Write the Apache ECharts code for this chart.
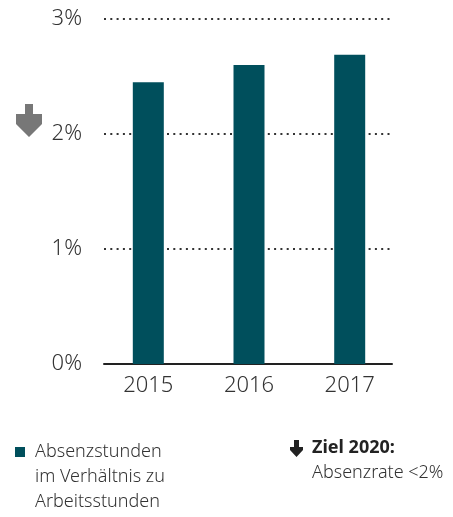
<!DOCTYPE html>
<html>
<head>
<meta charset="utf-8">
<script src="https://cdn.jsdelivr.net/npm/echarts@6/dist/echarts.min.js"></script>
<style>
  html, body { margin: 0; padding: 0; background: #fff; }
  #main { width: 453px; height: 517px; }
</style>
</head>
<body>
<div id="main"></div>
<script>
// Daten
var years = [2015, 2016, 2017];
var absenzrate = [2.45, 2.6, 2.69];
var legendText = ['Absenzstunden', 'im Verhältnis zu', 'Arbeitsstunden'];
var zielTitel = 'Ziel 2020:';
var zielText = 'Absenzrate <2%';

var font = '"Noto Sans", sans-serif';
var barColor = '#004f5c';

var chart = echarts.init(document.getElementById('main'));

chart.setOption({
    animation: false,
    textStyle: { fontFamily: font },
    grid: { left: 104, right: 61, top: 19, bottom: 153 },
    xAxis: {
        type: 'value',
        min: 2014.56,
        max: 2017.42,
        splitLine: { show: false },
        axisLine: { show: true, onZero: false, lineStyle: { color: '#222', width: 2 } },
        axisTick: { show: false },
        axisLabel: {
            customValues: years,
            color: '#333',
            fontSize: 22,
            fontWeight: 300,
            margin: 11,
            fontFamily: font,
            formatter: function (v) { return String(v); }
        }
    },
    yAxis: {
        type: 'value',
        min: 0,
        max: 3,
        interval: 1,
        axisLine: { show: false },
        axisTick: { show: false },
        axisLabel: {
            color: '#333',
            fontSize: 22,
            fontWeight: 300,
            margin: 22,
            fontFamily: font,
            formatter: '{value}%'
        },
        splitLine: {
            show: true,
            lineStyle: { color: '#333', width: 2, type: [2, 4.3] }
        }
    },
    series: [{
        type: 'bar',
        barWidth: 31,
        itemStyle: { color: barColor },
        data: years.map(function (y, i) { return [y, absenzrate[i]]; }),
        z: 3
    }],
    graphic: [
        // grauer Pfeil neben der Achse
        {
            type: 'polygon',
            shape: { points: [[25, 104], [33, 104], [33, 114], [42, 114], [42, 124], [29, 137], [16, 124], [16, 114], [25, 114]] },
            style: { fill: '#777' }
        },
        // Legende
        {
            type: 'rect',
            shape: { x: 15, y: 447, width: 10, height: 10 },
            style: { fill: barColor }
        },
        {
            type: 'text',
            left: 35,
            top: 439,
            style: {
                text: legendText.join('\n'),
                font: '300 18px ' + font,
                lineHeight: 25,
                fill: '#333'
            }
        },
        {
            type: 'polygon',
            shape: { points: [[294, 440], [299, 440], [299, 447], [303, 447], [303, 450], [296.5, 457], [290, 450], [290, 447], [294, 447]] },
            style: { fill: '#222' }
        },
        {
            type: 'text',
            left: 312,
            top: 439,
            style: {
                text: zielTitel,
                font: 'bold 18px ' + font,
                fill: '#222'
            }
        },
        {
            type: 'text',
            left: 312,
            top: 464,
            style: {
                text: zielText,
                font: '300 18px ' + font,
                fill: '#333'
            }
        }
    ]
});
</script>
</body>
</html>
